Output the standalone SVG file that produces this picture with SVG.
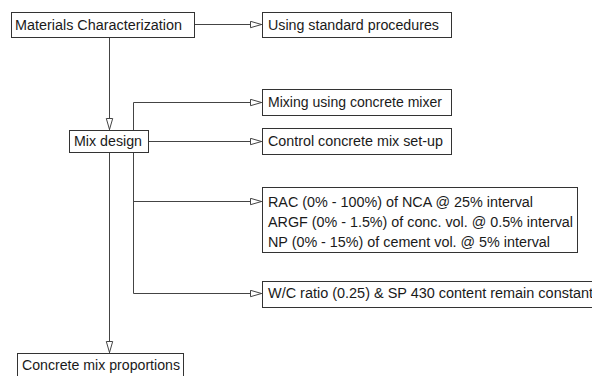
<svg xmlns="http://www.w3.org/2000/svg" width="592" height="376" viewBox="0 0 592 376">
<defs>
<marker id="ah" markerUnits="userSpaceOnUse" markerWidth="16" markerHeight="10" refX="13" refY="4" orient="auto">
<path d="M1,0.8 L12,4 L1,7.2 Z" fill="#fff" stroke="#444" stroke-width="1"/>
</marker>
<style>
.box{fill:#fff;stroke:#333;stroke-width:1}
.c{fill:none;stroke:#444;stroke-width:1;marker-end:url(#ah)}
.l{fill:none;stroke:#444;stroke-width:1}
text{font-family:"Liberation Sans",Arial,sans-serif;font-size:14px;fill:#1a1a1a}
</style>
</defs>
<rect width="592" height="376" fill="#fff"/>
<g id="connectors">
<path class="c" d="M194.5 24.5 H262.5"/>
<path class="c" d="M109.5 37.5 V130.5"/>
<path class="l" d="M133.5 102.5 V293.5"/>
<path class="c" d="M133.5 102.5 H262.5"/>
<path class="c" d="M148.5 141.5 H262.5"/>
<path class="c" d="M133.5 201.5 H262.5"/>
<path class="c" d="M133.5 293.5 H262.5"/>
<path class="c" d="M109.5 152.5 V353.5"/>
</g>
<g id="materials">
<rect class="box" x="11.5" y="12.5" width="183" height="25"/>
<text x="15" y="30" textLength="167" lengthAdjust="spacingAndGlyphs">Materials Characterization</text>
</g>
<g id="standard">
<rect class="box" x="262.5" y="12.5" width="189" height="25"/>
<text x="268" y="30" textLength="171" lengthAdjust="spacingAndGlyphs">Using standard procedures</text>
</g>
<g id="mixdesign">
<rect class="box" x="69.5" y="130.5" width="79" height="22"/>
<text x="74" y="146" textLength="68" lengthAdjust="spacingAndGlyphs">Mix design</text>
</g>
<g id="mixing">
<rect class="box" x="262.5" y="89.5" width="189" height="26"/>
<text x="268" y="106.5" textLength="174" lengthAdjust="spacingAndGlyphs">Mixing using concrete mixer</text>
</g>
<g id="control">
<rect class="box" x="262.5" y="128.5" width="189" height="26"/>
<text x="268" y="146" textLength="175" lengthAdjust="spacingAndGlyphs">Control concrete mix set-up</text>
</g>
<g id="variables">
<rect class="box" x="262.5" y="187.5" width="315" height="65"/>
<text x="268" y="207" textLength="265" lengthAdjust="spacingAndGlyphs">RAC (0% - 100%) of NCA @ 25% interval</text>
<text x="268" y="227" textLength="305" lengthAdjust="spacingAndGlyphs">ARGF (0% - 1.5%) of conc. vol. @ 0.5% interval</text>
<text x="268" y="247" textLength="282" lengthAdjust="spacingAndGlyphs">NP (0% - 15%) of cement vol. @ 5% interval</text>
</g>
<g id="constant">
<rect class="box" x="262.5" y="281.5" width="340" height="26"/>
<text x="268" y="298" textLength="325" lengthAdjust="spacingAndGlyphs">W/C ratio (0.25) &amp; SP 430 content remain constant</text>
</g>
<g id="proportions">
<rect class="box" x="17.5" y="353.5" width="166" height="30"/>
<text x="22" y="369.5" textLength="158" lengthAdjust="spacingAndGlyphs">Concrete mix proportions</text>
</g>
</svg>
